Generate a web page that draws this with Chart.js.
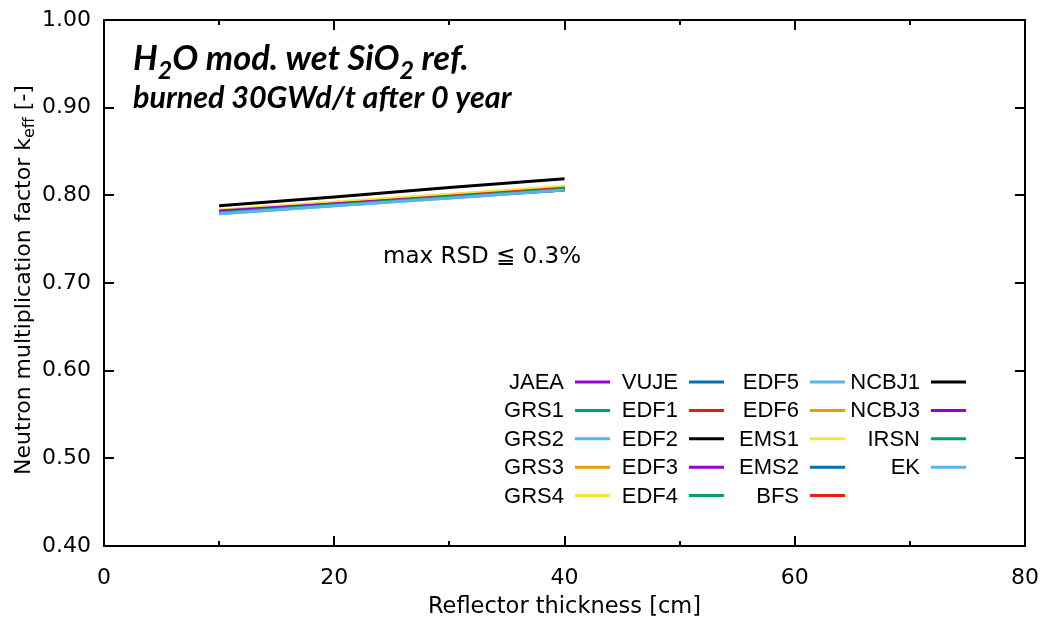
<!DOCTYPE html>
<html>
<head>
<meta charset="utf-8">
<script src="https://cdn.jsdelivr.net/npm/chart.js@4.4.1/dist/chart.umd.min.js"></script>
<style>
  html, body { margin: 0; padding: 0; background: #fff; }
  #wrap { width: 1050px; height: 627px; position: relative; }
</style>
</head>
<body>
<div id="wrap"><canvas id="chart"></canvas></div>
<script>
// reflector thickness [cm]
const thickness = [10, 20, 30, 40];

// keff per participant
const seriesNames = ['JAEA', 'GRS1', 'GRS2', 'GRS3', 'GRS4',
  'VUJE', 'EDF1', 'EDF2', 'EDF3', 'EDF4',
  'EDF5', 'EDF6', 'EMS1', 'EMS2', 'BFS',
  'NCBJ1', 'NCBJ3', 'IRSN', 'EK'];
const seriesColors = ['#9400d3', '#009e73', '#56b4e9', '#e69f00', '#f0e442',
  '#0072b2', '#e51e10', '#000000', '#9400d3', '#009e73',
  '#56b4e9', '#e69f00', '#f0e442', '#0072b2', '#e51e10',
  '#000000', '#9400d3', '#009e73', '#56b4e9'];

const JAEA  = [0.782, 0.790, 0.798, 0.806];
const GRS1  = [0.780, 0.789, 0.798, 0.807];
const GRS2  = [0.780, 0.789, 0.798, 0.807];
const GRS3  = [0.782, 0.791, 0.800, 0.809];
const GRS4  = [0.783, 0.792, 0.801, 0.810];
const VUJE  = [0.780, 0.789, 0.798, 0.807];
const EDF1  = [0.781, 0.790, 0.799, 0.808];
const EDF2  = [0.781, 0.790, 0.799, 0.808];
const EDF3  = [0.782, 0.791, 0.800, 0.809];
const EDF4  = [0.780, 0.789, 0.798, 0.807];
const EDF5  = [0.779, 0.788, 0.797, 0.806];
const EDF6  = [0.782, 0.791, 0.800, 0.809];
const EMS1  = [0.783, 0.792, 0.801, 0.810];
const EMS2  = [0.780, 0.789, 0.798, 0.807];
const BFS   = [0.781, 0.790, 0.799, 0.808];
const NCBJ1 = [0.788, 0.798, 0.809, 0.819];
const NCBJ3 = [0.782, 0.790, 0.798, 0.806];
const IRSN  = [0.780, 0.789, 0.798, 0.807];
const EK    = [0.779, 0.788, 0.797, 0.806];
const seriesValues = [JAEA, GRS1, GRS2, GRS3, GRS4, VUJE, EDF1, EDF2, EDF3, EDF4,
  EDF5, EDF6, EMS1, EMS2, BFS, NCBJ1, NCBJ3, IRSN, EK];

const xTicks = [0, 20, 40, 60, 80];
const xMinorTicks = [10, 30, 50, 70];
const yTicks = [0.4, 0.5, 0.6, 0.7, 0.8, 0.9, 1.0];

const tickFont = '"DejaVu Sans", sans-serif';

// draw text with subscript parts; segs = [[text, isSub], ...]
function drawRich(ctx, segs, x, y, size, style, align, fam) {
  const big = style + ' ' + size + 'px ' + fam;
  const small = style + ' ' + Math.round(size * 0.72) + 'px ' + fam;
  let total = 0;
  for (const [t, sub] of segs) {
    ctx.font = sub ? small : big;
    total += ctx.measureText(t).width;
  }
  let cx = align === 'center' ? x - total / 2 : x;
  ctx.textAlign = 'left';
  for (const [t, sub] of segs) {
    ctx.font = sub ? small : big;
    ctx.fillText(t, cx, sub ? y + size * 0.25 : y);
    cx += ctx.measureText(t).width;
  }
}

const framePlugin = {
  id: 'frame',
  afterDraw(chart) {
    const ctx = chart.ctx;
    const a = chart.chartArea;
    const xs = chart.scales.x, ys = chart.scales.y;
    ctx.save();
    ctx.strokeStyle = '#000';
    ctx.lineWidth = 2;
    ctx.strokeRect(a.left, a.top, a.right - a.left, a.bottom - a.top);

    // inward ticks on all four sides
    ctx.beginPath();
    for (const v of yTicks) {
      const p = Math.round(ys.getPixelForValue(v));
      ctx.moveTo(a.left, p); ctx.lineTo(a.left + 10, p);
      ctx.moveTo(a.right, p); ctx.lineTo(a.right - 10, p);
    }
    for (const v of xTicks) {
      const p = Math.round(xs.getPixelForValue(v));
      ctx.moveTo(p, a.bottom); ctx.lineTo(p, a.bottom - 10);
      ctx.moveTo(p, a.top); ctx.lineTo(p, a.top + 10);
    }
    for (const v of xMinorTicks) {
      const p = Math.round(xs.getPixelForValue(v));
      ctx.moveTo(p, a.bottom); ctx.lineTo(p, a.bottom - 5);
      ctx.moveTo(p, a.top); ctx.lineTo(p, a.top + 5);
    }
    ctx.stroke();

    ctx.fillStyle = '#000';
    ctx.textBaseline = 'middle';

    // legend, 4 columns of 5 rows, text right aligned, sample on the right
    const colRight = [564, 678, 799, 920];
    ctx.font = '22px "Liberation Sans", Arial, sans-serif';
    chart.data.datasets.forEach((ds, i) => {
      const col = Math.floor(i / 5), row = i % 5;
      const y = 382 + row * 28.4;
      const xr = colRight[col];
      ctx.textAlign = 'right';
      ctx.fillStyle = '#000';
      ctx.fillText(ds.label, xr, y + 1);
      ctx.strokeStyle = ds.borderColor;
      ctx.lineWidth = 3;
      ctx.beginPath();
      ctx.moveTo(xr + 11, y); ctx.lineTo(xr + 46, y);
      ctx.stroke();
    });

    // axis titles
    ctx.fillStyle = '#000';
    ctx.font = '22.5px ' + tickFont;
    ctx.textAlign = 'center';
    ctx.fillText('Reflector thickness [cm]', (a.left + a.right) / 2, 607);

    ctx.save();
    ctx.translate(24, 280);
    ctx.rotate(-Math.PI / 2);
    drawRich(ctx, [['Neutron multiplication factor k', false], ['eff', true], [' [-]', false]],
      0, 0, 22, 'normal', 'center', tickFont);
    ctx.restore();

    // annotations
    ctx.textBaseline = 'alphabetic';
    const titleFam = 'Lato, "Open Sans", sans-serif';
    drawRich(ctx, [['H', false], ['2', true], ['O mod. wet SiO', false], ['2', true], [' ref.', false]],
      133, 70, 34.5, 'italic bold', 'left', titleFam);
    ctx.font = 'italic bold 30.5px ' + titleFam;
    ctx.textAlign = 'left';
    ctx.fillText('burned 30GWd/t after 0 year', 133, 108);

    ctx.font = '23px ' + tickFont;
    ctx.textAlign = 'center';
    ctx.textBaseline = 'middle';
    ctx.fillText('max RSD \u2266 0.3%', 482, 257);
    ctx.restore();
  }
};

// gnuplot draws later curves on top, so give them a lower order
const datasets = seriesNames.map((name, i) => ({
  label: name,
  data: thickness.map((t, j) => ({ x: t, y: seriesValues[i][j] })),
  borderColor: seriesColors[i],
  backgroundColor: seriesColors[i],
  borderWidth: 3,
  pointRadius: 0,
  showLine: true,
  fill: false,
  order: seriesNames.length - i
}));

new Chart(document.getElementById('chart'), {
  type: 'scatter',
  data: { datasets },
  options: {
    responsive: true,
    maintainAspectRatio: false,
    animation: false,
    layout: { padding: { top: 20, right: 25, left: 0, bottom: 0 } },
    plugins: { legend: { display: false }, tooltip: { enabled: false } },
    scales: {
      x: {
        type: 'linear', min: 0, max: 80,
        afterFit(scale) { scale.height = 81; scale.paddingLeft = 0; scale.paddingRight = 0; },
        grid: { display: false, drawTicks: false },
        border: { display: false },
        ticks: { stepSize: 20, padding: 19, color: '#000', font: { family: tickFont, size: 22 } }
      },
      y: {
        min: 0.4, max: 1.0,
        afterFit(scale) { scale.width = 104; scale.paddingTop = 0; scale.paddingBottom = 0; },
        grid: { display: false, drawTicks: false },
        border: { display: false },
        ticks: { stepSize: 0.1, padding: 13, color: '#000', font: { family: tickFont, size: 22 },
          callback: v => v.toFixed(2) }
      }
    }
  },
  plugins: [framePlugin]
});
</script>
</body>
</html>
